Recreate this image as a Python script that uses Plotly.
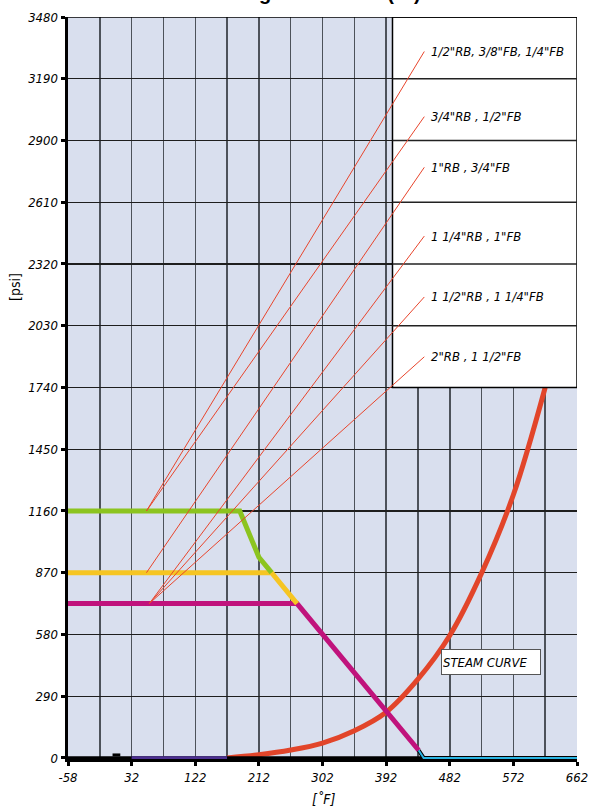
import plotly.graph_objects as go

# ---------------- data ----------------
x_tick_vals = [-58, 32, 122, 212, 302, 392, 482, 572, 662]
x_tick_text = ["-58", "32", "122", "212", "302", "392", "482", "572", "662"]
y_tick_vals = [0, 290, 580, 870, 1160, 1450, 1740, 2030, 2320, 2610, 2900, 3190, 3480]
y_tick_text = [str(v) for v in y_tick_vals]

# pressure / temperature rating lines  [°F], [psi]
green_T = [-58, 185, 212, 230]
green_P = [1160, 1160, 942.5, 870]
yellow_T = [-58, 230, 266]
yellow_P = [870, 870, 725]
magenta_T = [-58, 266, 438]
magenta_P = [725, 725, 36]
cyan_T = [438, 445, 662]
cyan_P = [36, 0, 0]
purple_T = [32, 167]
purple_P = [0, 0]
dash_T = [5, 16]
dash_P = [14, 14]

# steam curve
steam_T = [167, 212, 257, 302, 347, 392, 437, 482, 527, 572, 617]
steam_P = [0, 15, 37, 70, 128, 215, 370, 575, 868, 1236, 1740]

# legend table
label_texts = ['1/2"RB, 3/8"FB, 1/4"FB', '3/4"RB , 1/2"FB', '1"RB , 3/4"FB',
               '1 1/4"RB , 1"FB', '1 1/2"RB , 1 1/4"FB', '2"RB , 1 1/2"FB']
label_P = [3318, 3012, 2774, 2451, 2165, 1884]
leader_target_T = [53, 53, 53, 57, 57, 57]
leader_target_P = [1160, 1160, 870, 725, 725, 725]
table_row_lines = [3190, 2900, 2610, 2320, 2030]
table_T0, table_T1, table_P0, table_P1 = 401, 662, 1740, 3480
leader_T0 = 446
label_T = 453

steam_label = "STEAM CURVE"
steam_label_T, steam_label_P = 541, 451

# ---------------- figure ----------------
FONT = "Liberation Sans Narrow, Arial Narrow, DejaVu Sans Condensed, sans-serif"
LEADER = "#e8452c"

fig = go.Figure()

def add_line(xs, ys, color, width):
    fig.add_trace(go.Scatter(x=xs, y=ys, mode="lines",
                             line=dict(color=color, width=width),
                             hoverinfo="skip", showlegend=False))

add_line(steam_T, steam_P, "#e2452a", 5)
fig.data[-1].line.shape = "spline"
add_line([-58, 662], [0, 0], "#000000", 3.5)
add_line(purple_T, purple_P, "#4b2f8f", 3.5)
add_line(cyan_T, cyan_P, "#000000", 4)
add_line(cyan_T, cyan_P, "#2ab4e2", 2)
add_line(dash_T, dash_P, "#000000", 3)
add_line(magenta_T, magenta_P, "#c0137c", 5)
add_line(yellow_T, yellow_P, "#f6c522", 5)
add_line(green_T, green_P, "#8cc41f", 5)

shapes = []
shapes.append(dict(type="rect", xref="x", yref="y", x0=table_T0, x1=table_T1,
                   y0=table_P0, y1=table_P1, fillcolor="white",
                   line=dict(color="black", width=1.5), layer="above"))
for p in table_row_lines:
    shapes.append(dict(type="line", xref="x", yref="y", x0=table_T0, x1=table_T1,
                       y0=p, y1=p, line=dict(color="#222222", width=1.5), layer="above"))
shapes.append(dict(type="line", xref="x", yref="y", x0=-58, x1=662, y0=3480, y1=3480,
                   line=dict(color="black", width=1.5), layer="above"))
for p0, tt, tp in zip(label_P, leader_target_T, leader_target_P):
    shapes.append(dict(type="line", xref="x", yref="y", x0=leader_T0, y0=p0,
                       x1=tt, y1=tp, line=dict(color=LEADER, width=1), layer="above"))

annotations = []
for txt, p in zip(label_texts, label_P):
    annotations.append(dict(x=label_T, y=p, xref="x", yref="y", text=f"<i>{txt}</i>",
                            showarrow=False, xanchor="left", yanchor="middle",
                            font=dict(family=FONT, size=13, color="black")))
annotations.append(dict(x=steam_label_T, y=steam_label_P, xref="x", yref="y",
                        text=f"<i>{steam_label}</i>", showarrow=False,
                        bgcolor="white", bordercolor="#555555", borderwidth=1,
                        width=96, height=22, align="left", borderpad=1,
                        font=dict(family=FONT, size=13, color="black")))
annotations.append(dict(x=15, y=287, text="[psi]", showarrow=False, textangle=-90,
                        xanchor="center", yanchor="middle",
                        font=dict(family=FONT, size=14, color="black")))
annotations.append(dict(x=323, y=799, text="<i>[˚F]</i>", showarrow=False,
                        xanchor="center", yanchor="middle",
                        font=dict(family=FONT, size=14, color="black")))
annotations.append(dict(x=207, y=6, text="<b>Rating Chart ANSI (°F)</b>", showarrow=False,
                        xanchor="left", yanchor="bottom",
                        font=dict(family="Liberation Sans, Arial, sans-serif", size=20,
                                  color="black")))

# convert pixel-positioned annotations (axis titles / title) to paper coords
W, H = 607, 812
ML, MR, MT, MB = 68, 30, 17, 53
pw, ph = W - ML - MR, H - MT - MB
for a in annotations[-3:]:
    a["xref"] = "paper"
    a["yref"] = "paper"
    a["x"] = (a["x"] - ML) / pw
    a["y"] = 1 - (a["y"] - MT) / ph

fig.update_layout(
    width=W, height=H,
    margin=dict(l=ML, r=MR, t=MT, b=MB, pad=0, autoexpand=False),
    paper_bgcolor="white",
    plot_bgcolor="#d9dfee",
    shapes=shapes,
    annotations=annotations,
    showlegend=False,
    xaxis=dict(range=[-58, 662], tickmode="array", tickvals=x_tick_vals,
               ticktext=[f"<i>{t}</i>" for t in x_tick_text],
               showgrid=True, gridcolor="#4d525a", gridwidth=1.5,
               minor=dict(tickmode="linear", tick0=-58, dtick=45, showgrid=True,
                          gridcolor="#4d525a", gridwidth=1.5),
               zeroline=False, showline=True, linecolor="black", linewidth=3,
               ticks="outside", ticklen=4, tickwidth=3, tickcolor="black",
               tickfont=dict(family=FONT, size=13, color="black"),
               layer="below traces", fixedrange=True, automargin=False),
    yaxis=dict(range=[-5, 3480], tickmode="array", tickvals=y_tick_vals,
               ticktext=[f"<i>{t}</i>" for t in y_tick_text],
               showgrid=True, gridcolor="#1e1e1e", gridwidth=1.3,
               zeroline=False, showline=True, linecolor="black", linewidth=3.5,
               ticks="outside", ticklen=4, tickwidth=3, tickcolor="black",
               tickfont=dict(family=FONT, size=13, color="black"),
               layer="below traces", fixedrange=True, automargin=False),
)

fig.write_html("out.html", config={"displayModeBar": False, "staticPlot": True},
               post_script="document.body.style.margin='0px';document.body.style.overflow='hidden';")
